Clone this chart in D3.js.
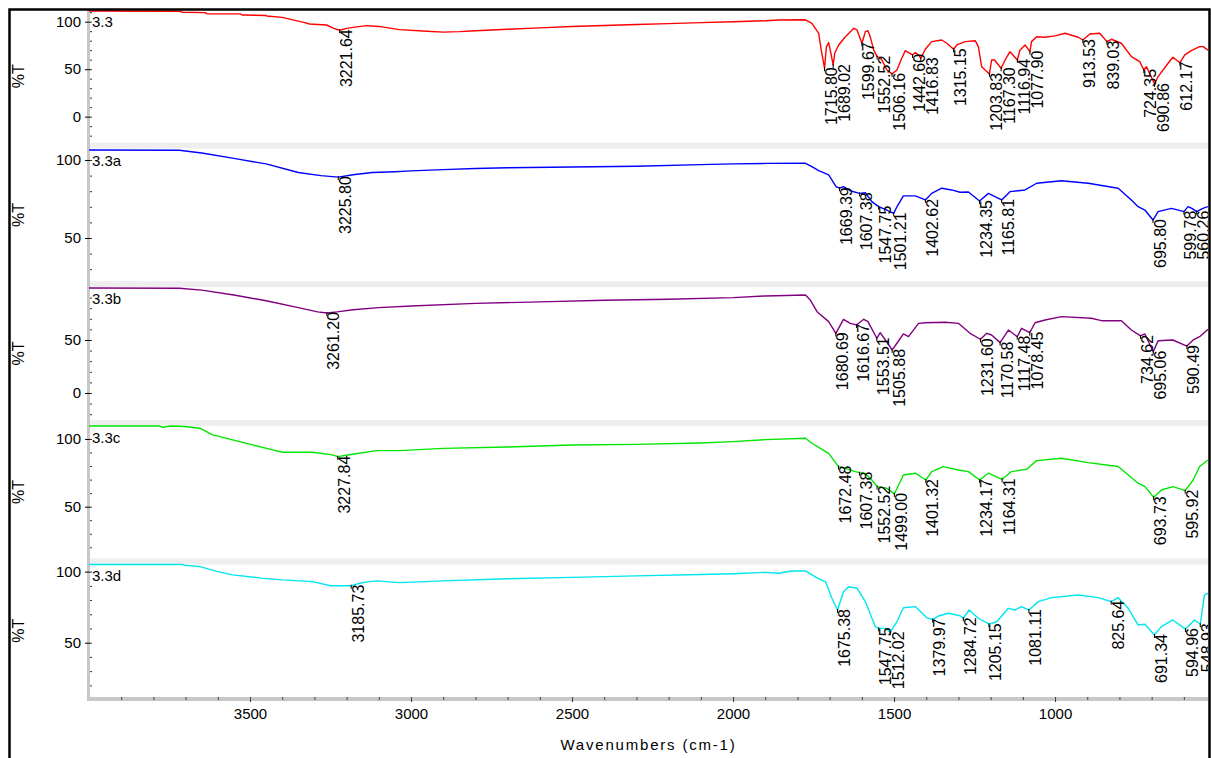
<!DOCTYPE html>
<html>
<head>
<meta charset="utf-8">
<script src="https://cdn.jsdelivr.net/npm/d3@7"></script>
<style>
  body { margin: 0; background: #fff; }
  svg { display: block; }
  text { font-family: "Liberation Sans", Arial, sans-serif; fill: #000; }
</style>
</head>
<body>
<svg id="chart" width="1211" height="758"></svg>
<script>
// ---- data: FTIR spectra, [wavenumber cm-1, %T] ----
const wavenumberTicks = [3500, 3000, 2500, 2000, 1500, 1000];
const sampleNames = ["3.3", "3.3a", "3.3b", "3.3c", "3.3d"];
const lineColors = ["#ff0000", "#0000ff", "#800080", "#00e600", "#00e5ee"];
const yTickSets = [[0, 50, 100], [50, 100], [0, 50], [50, 100], [50, 100]];
const yDomains = [[-27.3, 112.3], [22.3, 107.3], [-25.3, 99.8], [11.8, 109.7], [11.8, 105.1]];

const spectrum33 = [[4000,111.3],[3720,111],[3709,110],[3640,109.5],[3634,108.4],[3530,108.2],[3523,107],[3450,106.5],[3448,106],[3400,104.5],[3330,99],[3315,97.6],[3262,96.5],[3240,93],[3221.64,91],[3200,93],[3180,94],[3138,95.8],[3100,95],[3036,91.6],[2950,90],[2900,89],[2850,89.5],[2800,90.5],[2700,92],[2600,93.5],[2500,95],[2400,96],[2300,97],[2200,98],[2100,99],[2000,100],[1900,101],[1858,101.8],[1775,102],[1755,98.3],[1734,87.8],[1726,70],[1715.80,51],[1710,73.7],[1703,77.9],[1698,70],[1689.02,54.4],[1684,67],[1672,75.5],[1651,84.2],[1625,93],[1615,91.3],[1599.67,77.3],[1589,89.5],[1581,90.5],[1574,84.2],[1563,70],[1552.52,63.2],[1545,62.5],[1538,59.7],[1522,49.2],[1506.16,45],[1491,49.2],[1476,61.5],[1465,69.5],[1455,67.4],[1442.60,65],[1434,67.4],[1424,65],[1416.83,61.5],[1403,71],[1383,79],[1352,80.7],[1336,77.3],[1315.15,71],[1305,75.5],[1279,79],[1248,80],[1238,73.7],[1228,52.6],[1203.83,45],[1197,59.7],[1188,59.7],[1167.30,51],[1155,59.7],[1140,68.4],[1116.94,59.7],[1109,70],[1093,75.5],[1077.90,68.4],[1073,79],[1057,84.2],[1031,83.6],[1000,85],[969,87.8],[928,83.6],[913.53,80.7],[892,87],[861,87.8],[839.03,79],[825,81.5],[794,77.3],[763,63.2],[737,57.9],[724.35,49.2],[716,52.6],[690.86,34.4],[680,42.1],[649,56.2],[634,62.5],[612.17,56.8],[597,65],[577,69.5],[551,73.7],[540,73.7],[525,70]];

const spectrum33a = [[4000,106.4],[3720,106.2],[3650,104.5],[3550,101],[3450,97.5],[3350,92],[3280,90],[3225.80,89],[3180,90.5],[3120,92],[3050,92.5],[3000,93],[2900,93.8],[2800,94.5],[2700,95],[2500,95.5],[2300,96],[2100,97],[2000,97.5],[1900,97.8],[1775,97.9],[1755,95.7],[1734,93.2],[1703,90.4],[1680,83],[1669.39,81.9],[1657,82.9],[1636,80.3],[1607.38,78.6],[1589,79],[1569,73.3],[1547.75,70.1],[1527,68.4],[1501.21,65.8],[1491,70],[1471,77],[1434,77],[1402.62,74.4],[1383,78.6],[1352,81.9],[1321,80.8],[1295,79.3],[1269,79.5],[1234.35,73.7],[1207,78.6],[1165.81,74.4],[1140,79.7],[1093,80.8],[1057,85.1],[980,86.7],[897,85.1],[804,81.9],[763,74.4],[742,70.1],[721,67.9],[695.80,61.5],[680,66.9],[639,69],[620,68],[599.78,66.9],[587,70.1],[575,69],[560.26,66.9],[541,69],[525,70.1]];

const spectrum33b = [[4000,99],[3720,98.8],[3650,97],[3550,92.5],[3450,87],[3350,80.5],[3290,76.5],[3261.20,75.5],[3230,76.5],[3180,78.5],[3100,80.5],[3000,82],[2800,84.5],[2600,86],[2400,87.5],[2200,88.5],[2000,90],[1900,91.5],[1775,92.5],[1760,87.7],[1739,76.7],[1703,67.3],[1680.69,56.3],[1657,69.5],[1636,65.7],[1616.67,64.2],[1594,69.5],[1581,67.3],[1553.51,51.6],[1543,56.9],[1527,50],[1505.88,40.6],[1491,46.9],[1471,55.7],[1455,53.1],[1424,65.7],[1403,66.3],[1341,66.7],[1300,65.7],[1264,56.3],[1231.60,50.7],[1212,56.3],[1197,54.7],[1170.58,47.5],[1145,59.4],[1117.48,53.1],[1104,61],[1078.45,56.9],[1062,66.3],[1031,68.9],[980,72],[887,70.5],[856,68.2],[794,68.2],[763,59.4],[734.62,53.8],[721,55.7],[695.06,39],[680,49.3],[634,50],[590.49,44.3],[571,50],[551,53.1],[525,60]];

const spectrum33c = [[4000,109.5],[3780,109.5],[3771,108.6],[3749,109.5],[3702,109.2],[3656,107.9],[3616,103],[3554,99.3],[3492,95.6],[3430,91.9],[3399,90.2],[3306,90.2],[3244,88.2],[3227.84,86.9],[3182,88.7],[3107,91.4],[3036,91.4],[2900,93],[2700,94],[2500,95.5],[2300,96],[2100,97],[2000,98],[1900,99.5],[1775,100.5],[1755,96.8],[1729,93.1],[1703,89.4],[1672.48,79.6],[1651,78.3],[1620,75.9],[1607.38,75.1],[1589,74.5],[1569,69.7],[1552.52,64.8],[1522,63.6],[1499.00,59.4],[1471,73.4],[1434,74.7],[1401.32,69.7],[1383,75.9],[1347,79.6],[1300,77.1],[1269,75.9],[1234.17,69.7],[1207,74.7],[1164.31,70.2],[1135,75.9],[1088,77.6],[1057,84],[980,85.7],[897,82.5],[804,79.6],[742,67.3],[721,64.8],[693.73,56.9],[670,62.3],[634,64.8],[595.92,61.8],[571,69.7],[551,79.6],[525,84.5]];

const spectrum33d = [[4000,105],[3780,105],[3709,105],[3703,104.5],[3656,103.5],[3600,100],[3554,97.7],[3460,95.3],[3399,94.2],[3306,93],[3250,90.1],[3185.73,90.1],[3160,91.8],[3130,93],[3107,93.5],[3036,92.3],[2900,93.5],[2700,95],[2500,96],[2300,97],[2100,98],[2000,98.5],[1900,99.5],[1858,98.9],[1820,100.5],[1775,100.5],[1755,97.7],[1734,94.9],[1713,93],[1693,81.3],[1675.38,73],[1657,85.9],[1641,89.4],[1615,88.3],[1589,78.9],[1558,61.3],[1547.75,60.1],[1527,60.1],[1512.02,57.3],[1491,64.8],[1471,74.6],[1434,75.4],[1398,67.5],[1379.97,66.3],[1360,69],[1331,70.7],[1295,69],[1284.72,67.2],[1267,73],[1238,67.2],[1205.15,63],[1181,64.8],[1145,74.2],[1124,73],[1104,75.4],[1081.11,73],[1052,78.9],[1011,81.7],[928,83.6],[866,81.7],[825.64,78.9],[804,81.7],[773,74.2],[742,62.5],[721,63],[691.34,55.4],[670,61.3],[634,66],[594.96,59.6],[567,66],[548.93,63],[536,83.6],[525,84.8]];

const peaks33  = [3221.64,1715.80,1689.02,1599.67,1552.52,1506.16,1442.60,1416.83,1315.15,1203.83,1167.30,1116.94,1077.90,913.53,839.03,724.35,690.86,612.17];
const peaks33a = [3225.80,1669.39,1607.38,1547.75,1501.21,1402.62,1234.35,1165.81,695.80,599.78,560.26];
const peaks33b = [3261.20,1680.69,1616.67,1553.51,1505.88,1231.60,1170.58,1117.48,1078.45,734.62,695.06,590.49];
const peaks33c = [3227.84,1672.48,1607.38,1552.52,1499.00,1401.32,1234.17,1164.31,693.73,595.92];
const peaks33d = [3185.73,1675.38,1547.75,1512.02,1379.97,1284.72,1205.15,1081.11,825.64,691.34,594.96,548.93];

const spectra = [spectrum33, spectrum33a, spectrum33b, spectrum33c, spectrum33d];
const peakSets = [peaks33, peaks33a, peaks33b, peaks33c, peaks33d];

// ---- layout ----
const W = 1211, H = 758;
const plotLeft = 89, plotRight = 1208, plotTop = 10, plotBottom = 697, gap = 6;
const panelH = (plotBottom - plotTop - gap * (spectra.length - 1)) / spectra.length;

const svg = d3.select("#chart");
svg.append("rect").attr("width", W).attr("height", H).attr("fill", "#fff");

const x = d3.scaleLinear().domain([4000, 525]).range([plotLeft, plotRight]);

const defs = svg.append("defs");
defs.append("clipPath").attr("id", "plotClip")
  .append("rect").attr("x", plotLeft).attr("y", 0).attr("width", plotRight - plotLeft).attr("height", H);

// separator bands between stacked panels
for (let i = 1; i < spectra.length; i++) {
  const yb = plotTop + i * panelH + (i - 1) * gap;
  svg.append("rect").attr("x", plotLeft).attr("y", yb).attr("width", plotRight - plotLeft)
    .attr("height", gap).attr("fill", "#eeeeee");
}

// left axis bar and bottom axis bar
svg.append("rect").attr("x", plotLeft - 2).attr("y", plotTop).attr("width", 3)
  .attr("height", plotBottom - plotTop + 4).attr("fill", "#c8c8c8");
svg.append("rect").attr("x", plotLeft - 2).attr("y", plotBottom).attr("width", plotRight - plotLeft + 2)
  .attr("height", 4).attr("fill", "#c8c8c8");

const lineGen = (ys) => d3.line().x(d => x(d[0])).y(d => ys(d[1]));

function valueAt(data, w) {
  for (let k = 0; k < data.length - 1; k++) {
    const a = data[k], b = data[k + 1];
    if (w <= a[0] && w >= b[0]) {
      const t = (a[0] - w) / (a[0] - b[0]);
      return a[1] + t * (b[1] - a[1]);
    }
  }
  return data[data.length - 1][1];
}

spectra.forEach((data, i) => {
  const top = plotTop + i * (panelH + gap);
  const bottom = top + panelH;
  const y = d3.scaleLinear().domain(yDomains[i]).range([bottom, top]);
  const g = svg.append("g");

  // major y ticks with labels
  const yAxis = d3.axisLeft(y).tickValues(yTickSets[i]).tickSize(5).tickPadding(4).tickFormat(d3.format("d"));
  const ga = g.append("g").attr("transform", `translate(${plotLeft + 1},0)`).call(yAxis);
  ga.select(".domain").remove();
  ga.selectAll("line").attr("stroke", "#000").attr("stroke-width", 1);
  ga.selectAll("text").style("font-size", "15px").attr("fill", "#000");

  // minor y ticks every 10 %T
  const minorVals = d3.range(Math.ceil(yDomains[i][0] / 10) * 10, yDomains[i][1], 10);
  const ym = g.append("g").attr("transform", `translate(${plotLeft + 1},0)`)
    .call(d3.axisRight(y).tickValues(minorVals).tickSize(2).tickFormat(""));
  ym.select(".domain").remove();
  ym.selectAll("line").attr("stroke", "#333");

  // y title
  g.append("text").attr("transform", `translate(24,${(top + bottom) / 2}) rotate(-90)`)
    .attr("text-anchor", "middle").style("font-size", "16px").text("%T");

  // spectrum trace
  const cg = g.append("g").attr("clip-path", "url(#plotClip)");
  cg.append("path").datum(data).attr("d", lineGen(y)).attr("fill", "none")
    .attr("stroke", lineColors[i]).attr("stroke-width", 1.4).attr("stroke-linejoin", "round");

  // sample name
  g.append("text").attr("x", plotLeft + 3).attr("y", top + 17).style("font-size", "15px").text(sampleNames[i]);

  // peak labels, pushed apart so neighbours do not overlap
  const placed = peakSets[i].map(w => ({ w, px: x(w), py: y(valueAt(data, w)) }))
    .sort((a, b) => a.px - b.px);
  let last = -Infinity;
  placed.forEach(p => { p.lx = Math.max(p.px + 1, last + 13); last = p.lx; });

  cg.selectAll("line.peak").data(placed).enter().append("line").attr("class", "peak")
    .attr("x1", d => d.px).attr("x2", d => d.px).attr("y1", d => d.py - 1).attr("y2", d => d.py + 3)
    .attr("stroke", "#000").attr("stroke-width", 1);

  cg.selectAll("text.peak").data(placed).enter().append("text").attr("class", "peak")
    .attr("transform", d => `translate(${d.lx + 11.5},${d.py - 1}) rotate(-90)`)
    .attr("text-anchor", "end").style("font-size", "16px")
    .text(d => d.w.toFixed(2));
});

// wavenumber axis
const xAxis = d3.axisBottom(x).tickValues(wavenumberTicks).tickSize(5).tickPadding(6).tickFormat(d3.format("d"));
const gx = svg.append("g").attr("transform", `translate(0,${plotBottom})`).call(xAxis);
gx.select(".domain").remove();
gx.selectAll("line").attr("stroke", "#333");
gx.selectAll("text").style("font-size", "15px").attr("fill", "#000");

const gxm = svg.append("g").attr("transform", `translate(0,${plotBottom})`)
  .call(d3.axisBottom(x).tickValues(d3.range(600, 4000, 100)).tickSize(3).tickFormat(""));
gxm.select(".domain").remove();
gxm.selectAll("line").attr("stroke", "#444");

svg.append("text").attr("x", (plotLeft + plotRight) / 2).attr("y", 750).attr("text-anchor", "middle")
  .style("font-size", "15px").style("letter-spacing", "1.8px").text("Wavenumbers (cm-1)");

// outer frame
svg.append("path").attr("d", `M9.5,${H} V9.5 H${W - 1.5} V${H}`).attr("fill", "none")
  .attr("stroke", "#000").attr("stroke-width", 2.5);
</script>
</body>
</html>
